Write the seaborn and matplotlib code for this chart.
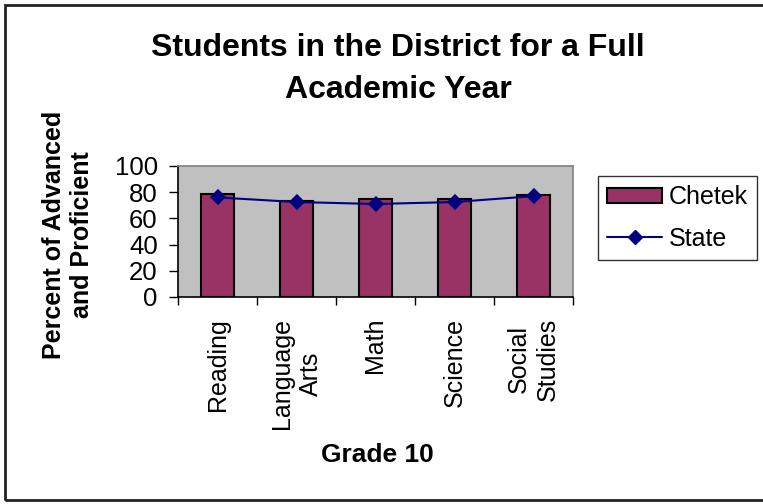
import matplotlib
matplotlib.use("Agg")
import matplotlib.pyplot as plt
import seaborn as sns
import pandas as pd
from matplotlib.patches import Rectangle, Patch
from matplotlib.lines import Line2D

# Grade 10 results, percent advanced and proficient
subjects = ["Reading", "Language\nArts", "Math", "Science", "Social\nStudies"]
chetek = [79, 73, 74.5, 74.5, 77.5]
state = [76, 72.5, 71, 72.5, 77]
y_ticks = [0, 20, 40, 60, 80, 100]
title_lines = ["Students in the District for a Full", "Academic Year"]

df = pd.DataFrame({"subject": subjects, "Chetek": chetek, "State": state})

sns.set_theme(style="white")
plt.rcParams["font.family"] = ["Liberation Sans", "DejaVu Sans"]
plt.rcParams["text.color"] = "black"
plt.rcParams["xtick.color"] = "black"
plt.rcParams["ytick.color"] = "black"
plt.rcParams["axes.labelcolor"] = "black"

W, H = 763, 504
fig = plt.figure(figsize=(W / 100, H / 100), dpi=100)
ax = fig.add_axes([178 / W, 1 - 297 / H, (573 - 178) / W, (297 - 166) / H])
ax.set_facecolor("#C0C0C0")

bar_color = "#993366"
line_color = "#000080"

sns.barplot(data=df, x="subject", y="Chetek", color=bar_color, saturation=1,
            edgecolor="black", linewidth=1.5, width=0.42, ax=ax)
sns.pointplot(data=df, x="subject", y="State", color=line_color,
              markers="D", markersize=7.5, linewidth=1.5, ax=ax)

ax.set_xlim(-0.5, 4.5)
ax.set_ylim(0, 100)
ax.set_xlabel("")
ax.set_ylabel("")

# category boundaries carry the ticks, labels sit at the centers
ax.set_xticks([i - 0.5 for i in range(6)])
ax.set_xticklabels([])
ax.set_xticks(range(5), minor=True)
labels = ax.set_xticklabels(subjects, minor=True, rotation=90, fontsize=18,
                            va="top", ha="center", multialignment="center",
                            color="black")
for lab in labels:
    lab.set_linespacing(1.25)
ax.tick_params(axis="x", which="major", direction="out", length=6, width=1,
               color="black", bottom=True)
ax.tick_params(axis="x", which="minor", length=0, pad=15)
ax.set_yticks(y_ticks)
ax.set_yticklabels([str(v) for v in y_ticks], fontsize=18.5, color="black")
ax.tick_params(axis="y", direction="out", length=6.5, width=1, color="black",
               left=True, pad=8)

for side in ("left", "bottom"):
    ax.spines[side].set_color("black")
    ax.spines[side].set_linewidth(1.2)
for side in ("top", "right"):
    ax.spines[side].set_color("#808080")
    ax.spines[side].set_linewidth(1.2)

# legend
handles = [
    Patch(facecolor=bar_color, edgecolor="black", linewidth=1.5, label="Chetek"),
    Line2D([0], [0], color=line_color, marker="D", markersize=7.5, linewidth=1.5,
           label="State"),
]
leg = fig.legend(handles=handles, loc="upper left",
                 bbox_to_anchor=(598 / W, 1 - 176 / H), fontsize=18,
                 frameon=True, fancybox=False, edgecolor="black",
                 handlelength=2.2, handleheight=0.55, borderpad=0.36,
                 labelspacing=0.7, handletextpad=0.26, borderaxespad=0)
leg.get_frame().set_linewidth(1.0)
for t in leg.get_texts():
    t.set_color("black")

# two-line title
for text, y in zip(title_lines, (48, 90)):
    fig.text(398 / W, 1 - y / H, text, ha="center", va="center",
             fontsize=23, fontweight="bold", color="black")
fig.text(68 / W, 1 - 235 / H, "Percent of Advanced\nand Proficient",
         ha="center", va="center", rotation=90, fontsize=18,
         fontweight="bold", linespacing=1.25, color="black")
fig.text(377 / W, 1 - 455 / H, "Grade 10", ha="center", va="center",
         fontsize=19, fontweight="bold", color="black")

# chart frame
fig.patches.append(Rectangle((4.5 / W, 1 - 500 / H), 1.0, (500 - 4.5) / H,
                             transform=fig.transFigure, fill=False,
                             edgecolor="#222222", linewidth=2, clip_on=False))

fig.savefig("out.png", dpi=100)
